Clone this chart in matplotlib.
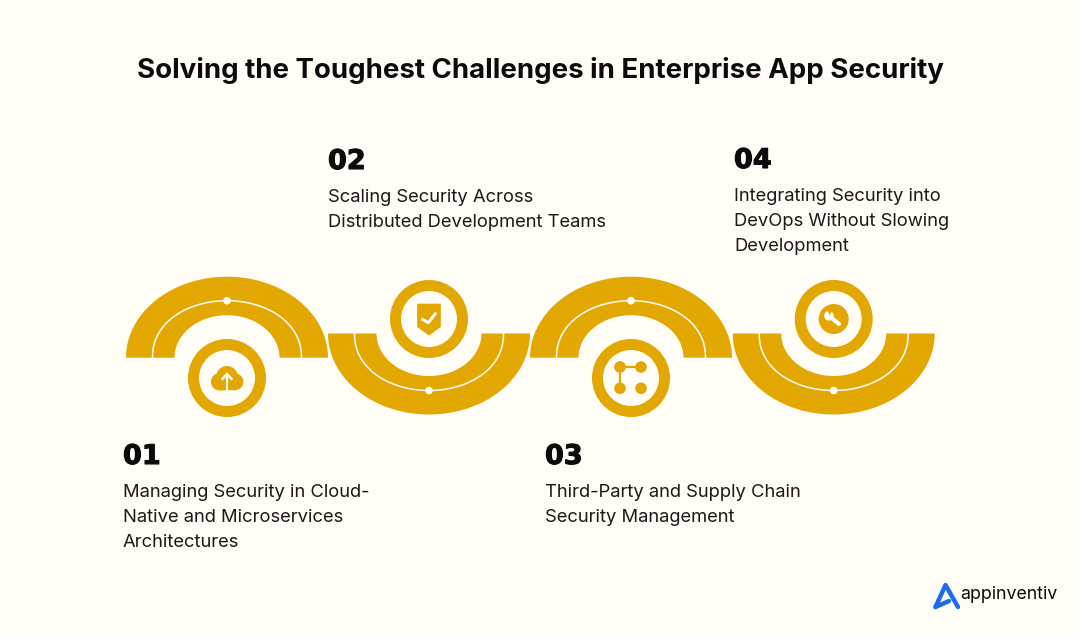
#!/usr/bin/env python3
import numpy as np
import matplotlib
matplotlib.use("Agg")
import matplotlib.pyplot as plt
from matplotlib.patches import Circle, Polygon
import matplotlib.patheffects as pe

BG = "#FFFDF6"
GOLD = "#E2A700"
INK = "#0B0B0B"
BLUE = "#1F6BF0"

title = "Solving the Toughest Challenges in Enterprise App Security"
numbers = ["01", "02", "03", "04"]
captions = [
    ["Managing Security in Cloud-", "Native and Microservices", "Architectures"],
    ["Scaling Security Across", "Distributed Development Teams"],
    ["Third-Party and Supply Chain", "Security Management"],
    ["Integrating Security into", "DevOps Without Slowing", "Development"],
]

# layout, in image pixels
centers_x = [227, 429, 631, 833.7]
text_x = [123, 328, 545, 734]
num_base = [464, 169, 464, 168]
body_base = [497, 202, 497, 201]

fig = plt.figure(figsize=(10.8, 6.34), dpi=100, facecolor=BG)
ax = fig.add_axes([0, 0, 1, 1])
ax.set_xlim(0, 1080)
ax.set_ylim(634, 0)
ax.axis("off")


def half_ring(cx, base, up, rx_out, ry_out, rx_in, ry_in, color, z=2):
    t = np.linspace(0, np.pi, 120)
    s = -1 if up else 1
    outer = np.c_[cx + rx_out * np.cos(t), base + s * ry_out * np.sin(t)]
    inner = np.c_[cx + rx_in * np.cos(t[::-1]), base + s * ry_in * np.sin(t[::-1])]
    ax.add_patch(Polygon(np.r_[outer, inner], closed=True, fc=color, ec="none", zorder=z))


def cloud_icon(cx, cy):
    for dx, dy, r in [(-7.5, 3.8, 8.6), (0, -1.2, 10.8), (8, 3.8, 8.4)]:
        ax.add_patch(Circle((cx + dx, cy + dy), r, fc=GOLD, ec="none", zorder=5))
    ax.add_patch(Polygon([(cx - 7.5, cy), (cx + 8, cy), (cx + 8, cy + 12.2), (cx - 7.5, cy + 12.4)],
                         fc=GOLD, ec="none", zorder=5))
    ax.plot([cx, cx], [cy + 12.5, cy - 3], color=BG, lw=1.6, zorder=6, solid_capstyle="butt")
    ax.plot([cx - 4.5, cx, cx + 4.5], [cy + 0.8, cy - 4, cy + 0.8], color=BG, lw=1.8, zorder=6)


def shield_icon(cx, cy):
    pts = [(cx - 11, cy - 14.5), (cx + 11, cy - 14.5), (cx + 11, cy + 7.5), (cx, cy + 15.5), (cx - 11, cy + 7.5)]
    ax.add_patch(Polygon(pts, fc=GOLD, ec=GOLD, lw=1.2, joinstyle="round", zorder=5))
    ax.plot([cx - 6.3, cx - 0.7, cx + 6.3], [cy + 0.5, cy + 3.7, cy - 5.2], color=BG, lw=2.2, zorder=6)


def nodes_icon(cx, cy):
    a, b = (cx - 11, cy - 11), (cx + 10, cy - 11)
    c, d = (cx - 11, cy + 10.3), (cx + 10, cy + 10.3)
    ax.plot([b[0], a[0], c[0]], [b[1], a[1], c[1]], color=GOLD, lw=1.6, zorder=5)
    for p in (a, b, c, d):
        ax.add_patch(Circle(p, 5.8, fc=GOLD, ec="none", zorder=6))


def wrench_icon(cx, cy):
    ax.add_patch(Circle((cx, cy), 15, fc=GOLD, ec="none", zorder=5))
    ax.plot([cx - 4.5, cx + 5.3], [cy - 3, cy + 5], color=BG, lw=3.0, zorder=6, solid_capstyle="round")
    ax.add_patch(Circle((cx - 4.8, cy - 3.2), 4.8, fc=BG, ec="none", zorder=6))
    ax.add_patch(Polygon([(cx - 6, cy - 9.5), (cx - 1, cy - 8.5), (cx - 4.5, cy - 3.8)], fc=GOLD, ec="none", zorder=7))


icons = [cloud_icon, shield_icon, nodes_icon, wrench_icon]

for i, cx in enumerate(centers_x):
    up = i % 2 == 0
    base = 357.7 if up else 333.5
    cy = 378 if up else 319
    s = -1 if up else 1
    half_ring(cx, base, up, 101, 81, 52.5, 42.5, GOLD)
    # thin white guide line with its dot
    t = np.linspace(0, np.pi, 120)
    ax.plot(cx + 74.5 * np.cos(t), base + s * 57 * np.sin(t) ** 0.92, color=BG, lw=1.1, zorder=3)
    ax.add_patch(Circle((cx, base + s * 57), 3.8, fc=BG, ec="none", zorder=4))
    ax.add_patch(Circle((cx, cy), 33.5, fc=BG, ec=GOLD, lw=7.9, zorder=4))
    icons[i](cx, cy)

ax.text(540, 78.5, title, fontsize=19.9, fontweight="bold", family="Inter", color=INK, ha="center", va="baseline")

for i, num in enumerate(numbers):
    ax.text(text_x[i], num_base[i], num, fontsize=19.5, fontweight="bold", family="DejaVu Sans", color=INK,
            va="baseline", path_effects=[pe.withStroke(linewidth=0.8, foreground=INK)])
    for j, line in enumerate(captions[i]):
        ax.text(text_x[i], body_base[i] + j * 25, line, fontsize=13.25, family="Inter", color="#1A1A1A", va="baseline")

# logo
ax.plot([935.5, 945.5, 958], [607, 585, 607], color=BLUE, lw=3.2, solid_joinstyle="round", solid_capstyle="round", zorder=3)
ax.plot([935.5, 949], [607, 601], color=BLUE, lw=3.2, solid_capstyle="round", zorder=3)
ax.text(960.5, 599, "appinventiv", fontsize=12.8, family="Inter", color=INK, va="baseline")

fig.savefig("out.png", dpi=100, facecolor=BG)
